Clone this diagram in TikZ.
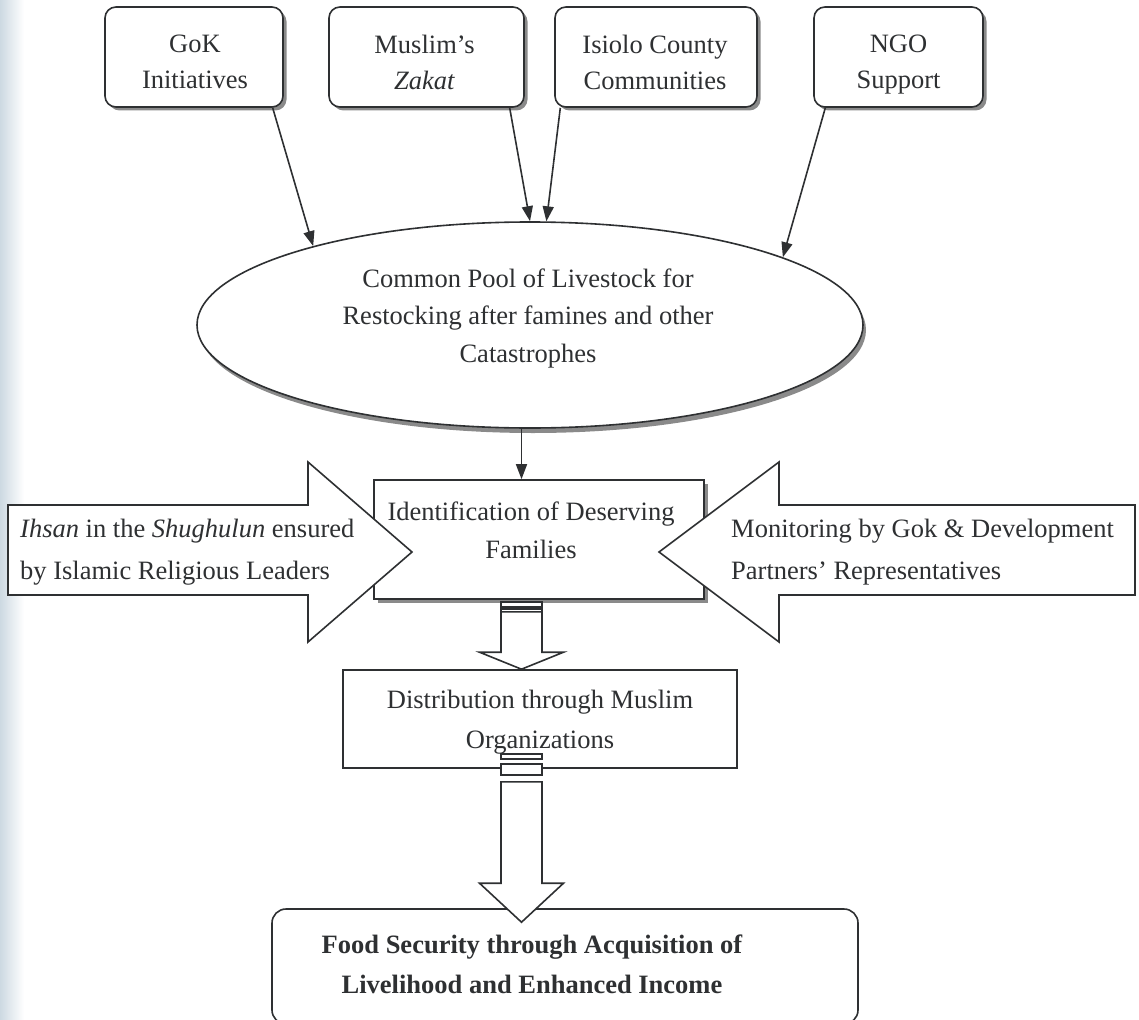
\documentclass[tikz,border=0pt]{standalone}
\usepackage{fontspec}
\setmainfont{Liberation Serif}
\usetikzlibrary{shapes.geometric,arrows.meta,calc,shadows}

\definecolor{ink}{HTML}{2E3032}
\definecolor{shadowgray}{HTML}{8A8A8A}
\definecolor{scanedge}{HTML}{CDD9E2}

% block arrow pointing down: #1 tail point, #2 tip point, #3 head length
\newcommand{\blockdown}[3]{%
  \draw[blk] ($(#1)+(-20.5,0)$) -- ($(#2)+(-20.5,-#3)$) -- ($(#2)+(-42,-#3)$)
    -- (#2) -- ($(#2)+(42,-#3)$) -- ($(#2)+(20.5,-#3)$) -- ($(#1)+(20.5,0)$) -- cycle;}

\begin{document}
\begin{tikzpicture}[x=1pt,y=-1pt,
  txt/.style={text=ink,font=\fontsize{26.5}{37}\selectfont,align=center,inner sep=0pt},
  srcbox/.style={draw=ink,line width=1.6pt,rounded corners=11pt,fill=white,
    minimum height=100pt,inner sep=0pt,
    drop shadow={shadow xshift=3.5pt,shadow yshift=-3.5pt,fill=shadowgray,opacity=1}},
  plainbox/.style={draw=ink,line width=1.6pt,fill=white,rectangle,inner sep=0pt},
  link/.style={draw=ink,line width=1.6pt,-{Triangle[length=15pt,width=11pt]}},
  blk/.style={draw=ink,line width=1.6pt,fill=white,line join=miter},
]
\useasboundingbox (0,0) rectangle (1139,1019);
\shade[left color=scanedge,right color=white] (0,0) rectangle (24,1019);

% sources
\node[srcbox,minimum width=178pt] (gok)    at (194,57)   {};
\node[srcbox,minimum width=195pt] (zakat)  at (426.5,57) {};
\node[srcbox,minimum width=202pt] (isiolo) at (656,57)   {};
\node[srcbox,minimum width=169pt] (ngo)    at (898.5,57) {};
\begin{scope}[every node/.style={txt,font=\fontsize{26.5}{36}\selectfont}]
  \node (gokt)    at ($(gok)+(1,5)$)    {GoK\\Initiatives};
  \node (zakatt)  at ($(zakat)+(-2,5)$) {Muslim’s\\\textit{Zakat}};
  \node (isiolot) at ($(isiolo)+(-1,5)$) {Isiolo County\\Communities};
  \node (ngot)    at ($(ngo)+(0,8)$)    {NGO\\Support};
\end{scope}

% common pool
\node[ellipse,draw=ink,line width=1.6pt,fill=white,minimum width=666pt,
  minimum height=206pt,inner sep=0pt,
  drop shadow={shadow xshift=3pt,shadow yshift=-5pt,fill=shadowgray,opacity=1}]
  (pool) at (530,325) {};
\node[txt,font=\fontsize{26.5}{37.5}\selectfont] (pooltext) at (528,318)
  {Common Pool of Livestock for\\Restocking after famines and other\\Catastrophes};

\draw[link] ($(gok.south west)!0.938!(gok.south east)$) -- (pool.160.8);
\draw[link] ($(zakat.south west)!0.923!(zakat.south east)$) -- (pool.90);
\draw[link] ($(isiolo.south west)!0.03!(isiolo.south east)$) -- (pool.81.7);
\draw[link] ($(ngo.south west)!0.071!(ngo.south east)$) -- (pool.15.2);

% identification
\coordinate (axis) at (521.5,0);
\node[plainbox,minimum width=330pt,minimum height=119pt,
  drop shadow={shadow xshift=4pt,shadow yshift=-4pt,fill=shadowgray,opacity=1}]
  (ident) at (539,539.5) {};
\node[txt,font=\fontsize{26.5}{38}\selectfont] (identtext) at (531,530)
  {Identification of Deserving\\Families};
\draw[link] (pool.south -| axis) -- (ident.north -| axis);

% side block arrows
\draw[blk] (8,505) -- (308,505) -- (308,462) -- (412,552) -- (308,642)
  -- (308,595) -- (8,595) -- cycle;
\node[txt,align=left,anchor=west,font=\fontsize{26.5}{42}\selectfont] (ihsan) at (20,552)
  {\textit{Ihsan} in the \textit{Shughulun} ensured\\by Islamic Religious Leaders};
\draw[blk] (1135,505) -- (779,505) -- (779,462) -- (659,552) -- (779,642)
  -- (779,595) -- (1135,595) -- cycle;
\node[txt,align=left,anchor=west,font=\fontsize{26.5}{42}\selectfont] (monitor) at (731,552)
  {Monitoring by Gok \& Development\\Partners’ Representatives};

% distribution
\node[plainbox,minimum width=394pt,minimum height=98pt] (distrib) at (540,719) {};
\node[txt,font=\fontsize{26.5}{40}\selectfont] (distribtext) at (540,722)
  {Distribution through Muslim\\Organizations};

% outcome
\node[draw=ink,line width=1.6pt,fill=white,rounded corners=14pt,
  minimum width=586pt,minimum height=115pt,inner sep=0pt] (food) at (565,966.5) {};
\node[txt,font=\bfseries\fontsize{26.5}{40}\selectfont] (foodtext) at (532,964)
  {Food Security through Acquisition of\\Livelihood and Enhanced Income};

% striped block arrows between the lower stages
\coordinate (d1top) at (ident.south -| axis);
\coordinate (d1tip) at (distrib.north -| axis);
\coordinate (d1tail) at ($(d1top)+(0,12)$);
\draw[blk] ($(d1top)+(-20.5,2)$) rectangle ($(d1top)+(20.5,7)$);
\draw[blk] ($(d1top)+(-20.5,9)$) rectangle ($(d1top)+(20.5,12)$);
\blockdown{d1tail}{d1tip}{17}

\coordinate (d2top) at (distrib.south -| axis);
\coordinate (d2tip) at ($(food.north -| axis)+(0,14)$);
\coordinate (d2tail) at ($(d2top)+(0,13)$);
\draw[blk] ($(d2top)+(-20.5,-15)$) rectangle ($(d2top)+(20.5,-10)$);
\draw[blk] ($(d2top)+(-20.5,-5)$) rectangle ($(d2top)+(20.5,6)$);
\blockdown{d2tail}{d2tip}{39}
\end{tikzpicture}
\end{document}
